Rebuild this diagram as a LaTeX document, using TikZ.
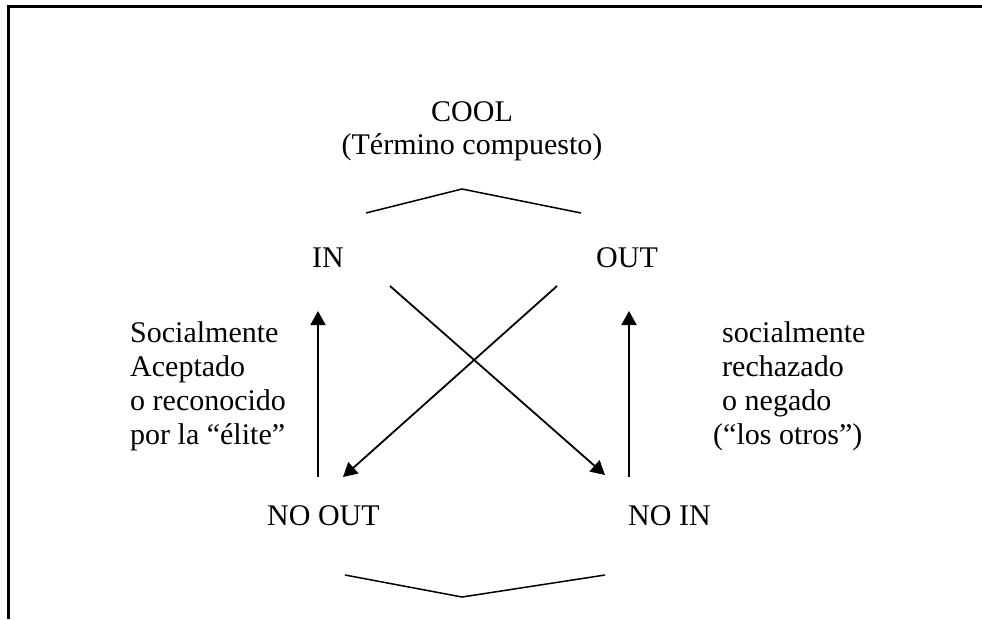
\documentclass[tikz,border=0pt]{standalone}
\usepackage{fontspec}
\setmainfont{Liberation Serif}
\usetikzlibrary{arrows.meta}
\begin{document}
\begin{tikzpicture}[x=1pt,y=-1pt,
  lbl/.style={inner sep=0pt, font=\fontsize{30}{34}\selectfont, anchor=base west},
  thin/.style={line width=1.5pt},
  arr/.style={line width=1.8pt, -{Triangle[length=14pt,width=15pt]}}]
\useasboundingbox (0,0) rectangle (982,619);
% open frame: left and top sides only
\draw[line width=2.2pt] (8.5,619) -- (8.5,6.5) -- (982,6.5);

% title
\node[lbl, anchor=base] (cool) at (472,121) {COOL};
\node[lbl, anchor=base] (term) at (472,154) {(Término compuesto)};

% corner terms
\node[lbl] (in) at (312,267) {IN};
\node[lbl] (out) at (596,267) {OUT};
\node[lbl] (noout) at (267,525) {NO OUT};
\node[lbl] (noin) at (628,525) {NO IN};

% side notes
\node[lbl] (l1) at (130,342) {Socialmente};
\node[lbl] (l2) at (130,376) {Aceptado};
\node[lbl] (l3) at (130,410) {o reconocido};
\node[lbl] (l4) at (130,444) {por la “élite”};
\node[lbl] (r1) at (722,342) {socialmente};
\node[lbl] (r2) at (722,376) {rechazado};
\node[lbl] (r3) at (722,410) {o negado};
\node[lbl] (r4) at (713,444) {(“los otros”)};

% braces above and below
\coordinate (hatL) at (366,213);
\coordinate (hatT) at (462,189);
\coordinate (hatR) at (581,213);
\draw[thin] (hatL) -- (hatT) -- (hatR);
\coordinate (vL) at (345,575);
\coordinate (vB) at (462,597);
\coordinate (vR) at (605,575);
\draw[thin] (vL) -- (vB) -- (vR);

% arrows
\coordinate (aLb) at (318,477);
\coordinate (aLt) at (318,311);
\coordinate (aRb) at (629,477);
\coordinate (aRt) at (629,311);
\coordinate (x1s) at (390,286);
\coordinate (x1e) at (605,475);
\coordinate (x2s) at (557,286);
\coordinate (x2e) at (343,477);
\draw[arr] (aLb) -- (aLt);
\draw[arr] (aRb) -- (aRt);
\draw[arr] (x1s) -- (x1e);
\draw[arr] (x2s) -- (x2e);
\end{tikzpicture}
\end{document}
